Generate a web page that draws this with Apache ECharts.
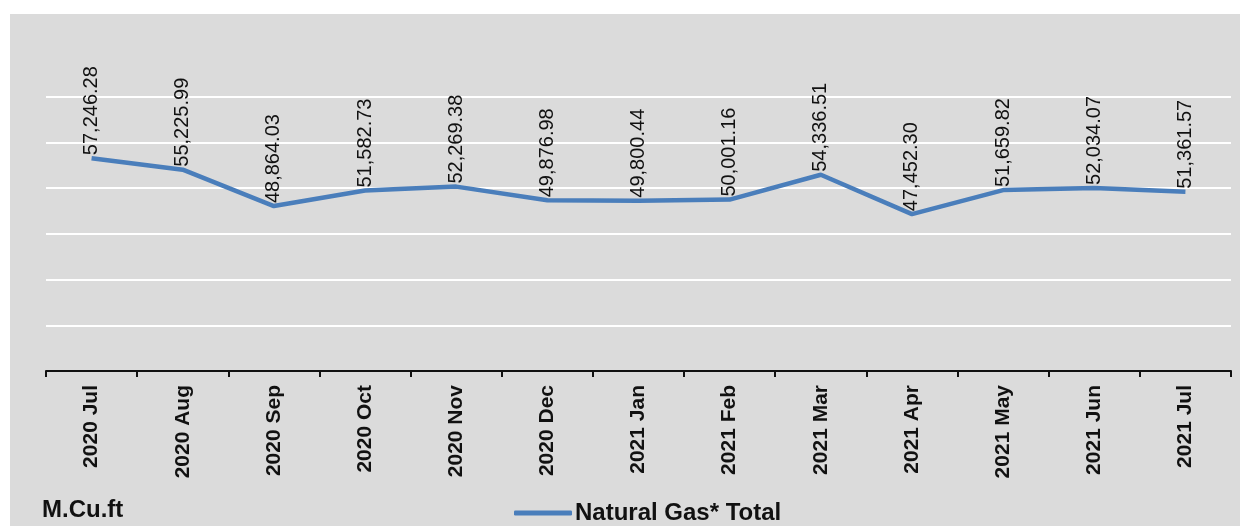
<!DOCTYPE html>
<html>
<head>
<meta charset="utf-8">
<script src="https://cdn.jsdelivr.net/npm/echarts@6/dist/echarts.min.js"></script>
<style>
html,body{margin:0;padding:0;background:#fff;}
#c{width:1241px;height:526px;}
</style>
</head>
<body>
<div id="c"></div>
<script>
var categories = ['2020 Jul','2020 Aug','2020 Sep','2020 Oct','2020 Nov','2020 Dec','2021 Jan','2021 Feb','2021 Mar','2021 Apr','2021 May','2021 Jun','2021 Jul'];
var gasTotal = [57246.28,55225.99,48864.03,51582.73,52269.38,49876.98,49800.44,50001.16,54336.51,47452.30,51659.82,52034.07,51361.57];
var seriesName = 'Natural Gas* Total';
var unitLabel = 'M.Cu.ft';
var yMin = 20000, yMax = 76000, yStep = 8000;

var fmt = new Intl.NumberFormat('en-US',{minimumFractionDigits:2,maximumFractionDigits:2});
var FONT = '"Liberation Sans", Arial, sans-serif';
var chart = echarts.init(document.getElementById('c'));
chart.setOption({
  backgroundColor: '#ffffff',
  animation: false,
  graphic: [
    {type:'rect', z:-10, shape:{x:10,y:14,width:1230,height:512}, style:{fill:'#dbdbdb'}},
    {type:'text', left:42, top:498, style:{text:unitLabel, font:'bold 24px ' + FONT, fill:'#111'}}
  ],
  grid: {left:46, right:10, top:51, bottom:155},
  legend: {
    left: 509, top: 496,
    icon: 'roundRect', itemWidth: 58, itemHeight: 5, itemGap: 2,
    textStyle: {fontFamily: FONT, fontWeight: 'bold', fontSize: 24, color: '#111', padding:[0,0,0,-2]},
    data: [seriesName]
  },
  xAxis: {
    type: 'category',
    data: categories,
    boundaryGap: true,
    axisLine: {lineStyle:{color:'#111', width:2}},
    axisTick: {show:true, length:6, lineStyle:{color:'#111', width:2}},
    axisLabel: {rotate:90, margin:14, fontFamily:FONT, fontWeight:'bold', fontSize:21, color:'#111', interval:0}
  },
  yAxis: {
    type: 'value',
    min: yMin, max: yMax, interval: yStep,
    axisLine: {show:false}, axisTick: {show:false}, axisLabel: {show:false},
    splitLine: {show:true, showMaxLine:false, lineStyle:{color:'#ffffff', width:2}}
  },
  series: [{
    name: seriesName,
    type: 'line',
    data: gasTotal,
    showSymbol: true,
    symbol: 'circle',
    symbolSize: 0,
    lineStyle: {color:'#4a7ebb', width:4.5},
    itemStyle: {color:'#4a7ebb'},
    label: {
      show: true, position: 'top', distance: 3, rotate: 90,
      align: 'left', verticalAlign: 'middle',
      fontFamily: FONT, fontSize: 20, color: '#111',
      formatter: function(p){ return fmt.format(p.value); }
    }
  }]
});
</script>
</body>
</html>
